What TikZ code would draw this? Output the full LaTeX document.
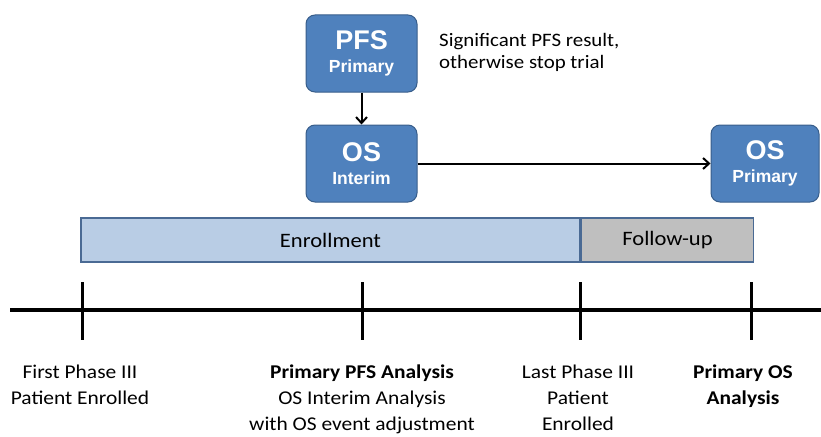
\documentclass[tikz,border=0pt]{standalone}
\usepackage{fontspec}
\setmainfont{Carlito}[FakeStretch=1.1]
\newfontfamily\arialf{Liberation Sans}
\usetikzlibrary{arrows.meta}
\definecolor{boxblue}{HTML}{4F81BD}
\definecolor{boxedge}{HTML}{385D8A}
\definecolor{enrfill}{HTML}{B9CDE5}
\definecolor{enredge}{HTML}{4A6A94}
\definecolor{fufill}{HTML}{BFBFBF}
\tikzset{
  bluebox/.style={draw=boxedge, line width=1pt, fill=boxblue, rounded corners=9pt,
    minimum width=111pt, minimum height=77pt, text=white, align=center, inner sep=0pt},
  barbox/.style={draw=enredge, line width=1.5pt, minimum height=44pt, inner sep=0pt,
    font=\fontsize{20.5}{22}\selectfont},
  conn/.style={line width=2pt, -{Straight Barb[length=6pt,width=11pt,line width=2pt]}},
  tick/.style={line width=3pt},
  lbl/.style={align=center, anchor=north, inner sep=0pt, font=\fontsize{19.5}{26}\selectfont},
  note/.style={align=left, anchor=north west, inner sep=0pt, font=\fontsize{19}{22}\selectfont},
}
\newcommand{\boxtxt}[2]{{\arialf\bfseries\fontsize{27}{27}\selectfont #1}\\[9pt]{\arialf\bfseries\fontsize{17.5}{18}\selectfont #2}}
\begin{document}
\begin{tikzpicture}[x=1pt,y=-1pt]
\useasboundingbox (0,0) rectangle (821,436);
% boxes
\node[bluebox] (pfs) at (361.5,53.5) {\boxtxt{PFS}{Primary}};
\node[bluebox] (osi) at (361.5,163.5) {\boxtxt{OS}{Interim}};
\node[bluebox, minimum width=108pt] (osp) at (765,163.5) {\boxtxt{OS}{Primary}};
\draw[conn] (pfs) -- (osi);
\draw[conn] (osi) -- (osp);
\node[note] (sig) at (439,33) {Significant PFS result,\\otherwise stop trial};
% bars
\node[barbox, fill=enrfill, minimum width=499pt] (enr) at (330.5,240) {Enrollment};
\node[barbox, fill=fufill, minimum width=172pt, anchor=west] (fu) at (enr.east) {Follow-up};
% timeline
\coordinate (tl) at (10,310);
\coordinate (tr) at (821,310);
\draw[line width=4pt] (tl) -- (tr);
\coordinate (t1a) at (82,282); \coordinate (t1b) at (82,340);
\coordinate (t2a) at (362,282); \coordinate (t2b) at (362,340);
\coordinate (t3a) at (580,282); \coordinate (t3b) at (580,340);
\coordinate (t4a) at (751,282); \coordinate (t4b) at (751,340);
\draw[tick] (t1a) -- (t1b);
\draw[tick] (t2a) -- (t2b);
\draw[tick] (t3a) -- (t3b);
\draw[tick] (t4a) -- (t4b);
% labels
\node[lbl] (l1) at (80,365) {First Phase III\\Patient Enrolled};
\node[lbl] (l2) at (362,365) {\textbf{Primary PFS Analysis}\\OS Interim Analysis\\with OS event adjustment};
\node[lbl] (l3) at (578,365) {Last Phase III\\Patient\\Enrolled};
\node[lbl] (l4) at (743,365) {\textbf{Primary OS}\\\textbf{Analysis}};
\end{tikzpicture}
\end{document}
